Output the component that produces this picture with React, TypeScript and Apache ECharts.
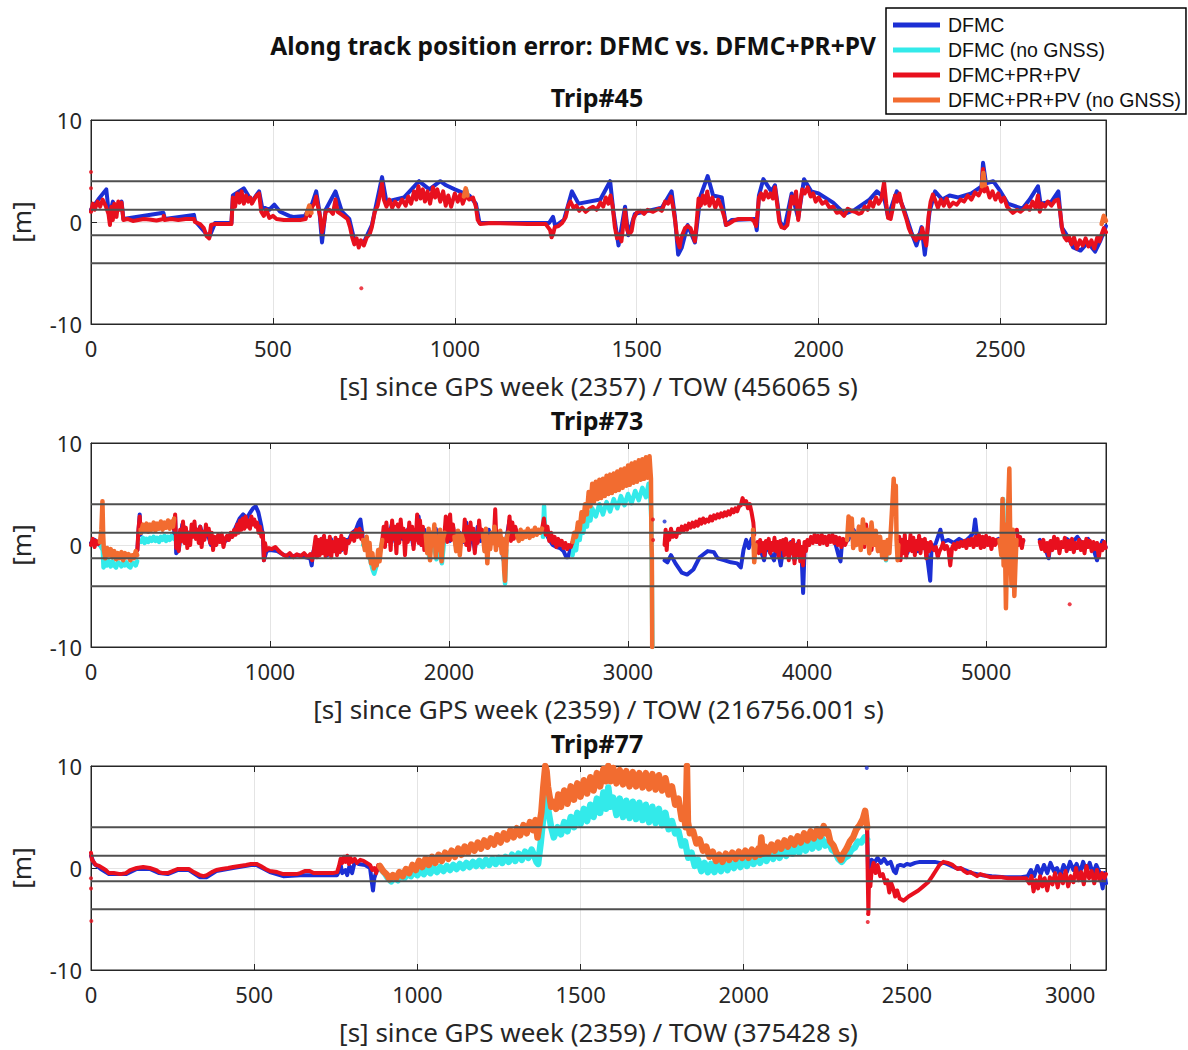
import React, { useEffect, useRef } from "react";
import * as echarts from "echarts";

// ---------- names, colours, axes ----------
const seriesNames = ["DFMC", "DFMC (no GNSS)", "DFMC+PR+PV", "DFMC+PR+PV (no GNSS)"];
const seriesColors = ["#1c2fd4", "#33eaea", "#e8101e", "#f26c30"];
const tripTitles = ["Trip#45", "Trip#73", "Trip#77"];
const xAxisNames = [
  "[s] since GPS week (2357) / TOW (456065 s)",
  "[s] since GPS week (2359) / TOW (216756.001 s)",
  "[s] since GPS week (2359) / TOW (375428 s)",
];
const xMaxes = [2790, 5670, 3110];
const xIntervals = [500, 1000, 500];
const yTicks = [-10, 0, 10];
const refLevels = [4, 1.2, -1.3, -4.05];

type Seg = number[][];

// ---------- Trip#45 ----------
const trip45Dfmc: Seg[] = [
  [[0,1.2],[20,2.2],[42,3.2],[50,0.5],[60,2.0],[70,1.0],[84,2.0],[89,0.3],[199,0.9],[203,0.3],[283,0.7],[286,0.1],[325,-1.5],[341,-0.1],[386,-0.1],[390,2.6],[420,3.3],[442,2.0],[462,3.0],[470,1.5],[490,1.2],[504,1.7],[520,1.0],[545,0.6],[556,0.5],[588,0.6],[608,1.8],[619,3.0],[628,1.0],[635,-2.0],[645,1.2],[672,3.0],[690,1.0],[710,0.3],[724,-1.8],[750,-2.0],[772,-0.3],[800,4.4],[812,2.0],[860,2.4],[902,4.0],[930,3.2],[960,4.0],[976,3.6],[1000,3.2],[1040,2.6],[1058,1.8],[1068,-0.1],[1259,-0.1],[1270,0.5],[1276,-0.4],[1300,0.2],[1322,3.0],[1340,1.8],[1400,2.2],[1427,4.0],[1436,1.0],[1450,-2.3],[1468,1.5],[1477,-1.3],[1495,0.8],[1569,1.4],[1596,3.0],[1605,0.5],[1614,-3.2],[1624,-2.5],[1640,-0.3],[1660,-2.0],[1675,2.5],[1695,4.5],[1710,2.6],[1734,2.4],[1745,-0.3],[1761,0.2],[1825,0.3],[1830,-0.8],[1836,2.6],[1848,4.2],[1870,3.0],[1880,3.6],[1894,0.0],[1906,-0.6],[1926,2.8],[1944,0.4],[1960,4.2],[1980,3.0],[2000,2.8],[2040,1.9],[2072,0.8],[2100,1.2],[2140,2.2],[2160,3.0],[2180,2.4],[2191,0.5],[2205,2.0],[2215,3.0],[2235,1.2],[2255,-1.0],[2269,-2.3],[2283,-0.5],[2292,-3.2],[2305,1.0],[2320,3.0],[2340,2.2],[2360,2.6],[2384,2.4],[2420,2.8],[2448,3.5],[2452,5.8],[2460,3.8],[2480,4.0],[2500,3.0],[2520,1.8],[2560,1.3],[2580,2.2],[2603,3.5],[2610,1.8],[2640,2.0],[2659,3.0],[2668,-0.5],[2686,-1.5],[2700,-2.5],[2720,-2.8],[2740,-2.0],[2760,-2.9],[2775,-1.8],[2790,-0.4]],
];
const trip45DfmcNoGnss: Seg[] = [
  [[1028,2.8],[1031,3.2],[1034,2.7]],
];
const trip45Pr: Seg[] = [
  [[0,1.0],[5,1.8],[10,1.2],[18,2.0],[25,1.5],[32,2.2],[40,1.6],[48,0.8],[52,-0.3],[56,1.5],[60,0.2],[64,1.8],[70,0.5],[75,2.0],[80,1.2],[84,1.9],[89,0.2],[100,0.3],[115,0.1],[130,0.2],[145,0.3],[160,0.25],[180,0.15],[199,0.3],[200,0.6],[202,0.2],[220,0.3],[240,0.2],[260,0.3],[283,0.3],[286,0.0],[300,-0.2],[310,-0.6],[318,-1.4],[325,-1.6],[330,-0.3],[341,-0.2],[370,-0.2],[386,-0.2],[390,2.4],[396,1.5],[402,2.8],[408,1.9],[414,3.0],[420,1.8],[426,2.6],[432,2.0],[438,2.4],[442,1.8],[455,2.6],[462,2.8],[468,1.0],[475,0.6],[482,1.2],[490,0.4],[500,0.6],[510,0.3],[530,0.2],[556,0.2],[575,0.2],[590,0.3],[596,1.2],[602,0.6],[608,1.5],[614,1.8],[619,2.5],[624,1.5],[630,0.5],[635,-1.0],[640,-0.2],[645,1.0],[655,1.2],[665,0.8],[672,2.2],[678,1.0],[690,0.7],[705,0.3],[712,-0.5],[718,-1.5],[724,-2.2],[730,-1.6],[736,-2.5],[742,-1.8],[750,-2.3],[758,-1.5],[766,-1.2],[772,-0.5],[780,1.0],[788,1.6],[795,2.8],[800,3.8],[805,2.2],[812,1.5],[820,2.2],[828,1.4],[836,2.0],[845,1.5],[855,2.2],[865,1.6],[872,2.5],[880,1.8],[888,3.0],[894,2.2],[900,3.5],[906,2.3],[912,3.2],[918,2.0],[925,3.0],[932,1.8],[940,3.4],[946,2.4],[952,3.2],[960,2.0],[968,3.0],[975,1.6],[982,2.6],[990,1.5],[1000,2.8],[1008,2.0],[1015,2.7],[1022,1.8],[1030,2.6],[1040,2.2],[1050,2.4],[1058,1.5],[1063,0.2],[1070,-0.2],[1100,-0.1],[1150,-0.15],[1200,-0.2],[1250,-0.2],[1262,-0.8],[1266,-1.5],[1270,-1.2],[1275,-0.5],[1285,-0.4],[1295,-0.1],[1305,0.5],[1312,1.6],[1318,2.0],[1326,1.4],[1334,1.6],[1342,1.1],[1350,1.4],[1360,1.0],[1370,1.3],[1380,1.5],[1390,1.2],[1400,1.9],[1408,1.5],[1415,2.4],[1422,1.8],[1428,2.6],[1434,1.5],[1440,-0.5],[1446,-1.6],[1452,-1.2],[1458,-1.9],[1464,0.0],[1468,1.2],[1474,-0.8],[1480,-1.2],[1486,-0.9],[1492,0.4],[1500,0.9],[1510,1.1],[1520,0.8],[1530,1.2],[1545,1.0],[1560,1.3],[1569,1.1],[1578,2.0],[1586,1.8],[1594,2.5],[1600,1.5],[1606,0.0],[1612,-1.8],[1618,-2.5],[1622,-1.6],[1626,-1.2],[1633,-0.6],[1640,-0.4],[1648,-0.6],[1654,-1.2],[1660,-1.9],[1666,0.5],[1670,2.3],[1676,1.6],[1682,2.6],[1688,1.8],[1694,3.0],[1700,1.6],[1708,2.4],[1716,1.4],[1724,2.2],[1732,1.5],[1740,0.6],[1746,-0.3],[1752,-0.2],[1765,0.1],[1780,0.3],[1800,0.3],[1815,0.3],[1822,0.1],[1828,-0.4],[1832,0.8],[1836,2.4],[1842,2.8],[1848,2.2],[1855,3.0],[1862,2.4],[1868,2.8],[1874,2.3],[1880,3.4],[1886,1.8],[1892,0.0],[1898,-0.5],[1906,-0.6],[1914,-0.3],[1920,1.0],[1926,2.5],[1932,1.8],[1938,3.0],[1944,0.2],[1950,2.0],[1955,3.2],[1962,2.8],[1970,3.4],[1978,2.5],[1985,2.8],[1992,2.0],[2000,2.4],[2010,1.8],[2020,2.0],[2030,1.4],[2040,1.5],[2050,0.9],[2060,1.0],[2070,0.6],[2080,1.3],[2090,1.1],[2100,1.0],[2110,0.8],[2118,0.9],[2127,1.5],[2135,1.2],[2142,2.0],[2150,1.5],[2158,2.4],[2165,1.8],[2172,2.2],[2180,3.9],[2186,1.8],[2191,0.4],[2198,0.3],[2205,1.5],[2210,2.6],[2216,2.0],[2222,2.8],[2228,1.8],[2235,1.0],[2242,0.2],[2248,-0.6],[2255,-1.2],[2262,-1.5],[2268,-1.8],[2274,-1.3],[2280,-1.6],[2285,-0.6],[2290,-1.5],[2296,-2.3],[2302,0.5],[2308,2.0],[2314,2.7],[2320,2.2],[2328,1.4],[2336,2.2],[2344,1.6],[2352,2.3],[2360,1.5],[2370,1.9],[2380,1.7],[2390,2.2],[2400,2.0],[2410,2.6],[2420,2.2],[2430,2.9],[2440,2.6],[2448,3.2],[2452,5.2],[2456,3.0],[2462,3.4],[2470,2.4],[2478,3.0],[2486,2.2],[2494,2.8],[2502,2.0],[2510,2.4],[2518,1.5],[2526,1.2],[2534,0.9],[2545,1.2],[2555,1.0],[2565,1.3],[2572,1.6],[2580,1.2],[2588,2.0],[2596,1.4],[2603,2.6],[2608,1.0],[2614,1.8],[2622,1.5],[2630,2.0],[2640,1.6],[2650,2.1],[2658,2.2],[2664,1.0],[2670,-0.8],[2676,-1.5],[2682,-1.8],[2688,-1.4],[2695,-2.2],[2702,-1.5],[2710,-2.6],[2718,-1.8],[2726,-2.3],[2734,-1.6],[2742,-2.4],[2750,-1.8],[2758,-2.6],[2766,-1.5],[2772,-1.9],[2778,-1.2],[2784,-0.6],[2790,-1.0]],
];
const trip45PrNoGnss: Seg[] = [
  [[593,0.8],[600,1.6],[606,0.9]],
  [[1025,2.5],[1030,3.3],[1035,2.6]],
  [[2449,3.5],[2453,4.8],[2457,3.6]],
  [[2778,-0.2],[2784,0.6],[2790,0.1]],
];
const trip45PrOutliers = [[0,4.9],[0,3.3],[743,-6.5]];
const trip45DfmcOutliers: number[][] = [];

// ---------- Trip#73 ----------
const trip73Dfmc: Seg[] = [
  [[0,0.2],[20,0.5],[45,0.0],[50,0.2]],
  [[259,-0.5],[266,1.5],[272,3.0],[277,1.0]],
  [[464,1.0],[470,2.8],[476,-0.8],[490,-0.5],[510,2.0],[530,1.5],[550,0.5],[570,1.2],[590,0.8],[610,1.8],[630,0.6],[650,1.2],[670,0.0],[690,0.5],[710,0.8],[730,0.6],[750,0.4],[770,0.6],[790,1.0],[810,1.8],[830,2.6],[850,3.0],[870,2.6],[890,3.2],[905,3.6],[920,3.8],[935,3.2],[950,2.0],[960,1.0],[966,-1.5],[980,-0.6],[1000,-0.5],[1040,-0.6],[1080,-1.0],[1120,-1.1],[1160,-1.0],[1200,-1.2],[1225,-1.3],[1233,-2.0],[1240,-0.8],[1260,0.5],[1280,-0.8],[1300,0.8],[1320,-1.0],[1340,0.6],[1360,-0.6],[1380,0.4],[1400,-0.5],[1420,0.5],[1440,0.5],[1460,1.2],[1480,1.5],[1495,2.2],[1505,2.5],[1515,1.2],[1520,0.4]],
  [[1627,0.3],[1640,1.5],[1660,0.5],[1680,2.0],[1700,0.3],[1720,1.6],[1740,0.6],[1760,1.2],[1780,1.8],[1800,0.0],[1814,0.8],[1830,2.8],[1846,0.0],[1862,1.5],[1878,-0.6],[1894,1.2],[1910,-0.4],[1926,1.6],[1942,0.2],[1958,-1.2],[1975,1.0],[1990,2.6],[2006,0.4],[2022,1.8],[2040,-0.3],[2060,1.2],[2080,0.3],[2096,2.2],[2112,-0.3],[2128,1.4],[2144,-0.5],[2160,1.8],[2176,0.4],[2190,1.2],[2206,-0.2],[2222,1.5],[2238,0.2],[2254,1.6],[2262,0.0],[2278,1.2],[2294,-0.4],[2305,-1.5],[2320,0.6],[2338,2.4],[2354,0.8],[2370,1.6],[2390,0.6],[2420,1.2],[2450,0.8],[2480,1.5],[2500,1.2],[2520,1.4],[2540,1.2],[2560,0.5],[2580,0.0],[2600,-0.2],[2620,-0.3],[2640,-0.6],[2655,-1.2],[2665,-1.2],[2675,-0.6],[2690,0.0]],
  [[3204,-1.5],[3220,-1.7],[3240,-1.0],[3265,-1.8],[3300,-2.7],[3330,-2.9],[3365,-2.4],[3400,-1.2],[3445,-0.6],[3480,-0.7],[3500,-1.3],[3540,-1.5],[3575,-1.7],[3610,-1.8],[3630,-2.2],[3645,-0.5],[3660,0.5],[3675,-0.3],[3690,0.6],[3705,0.0],[3720,0.2],[3740,-0.5],[3760,-1.5],[3775,0.3],[3790,-0.6],[3816,-1.5],[3830,0.2],[3853,-2.0],[3870,0.0],[3890,-0.8],[3910,0.3],[3930,-1.5],[3950,0.2],[3970,-1.2],[3978,-4.7],[3986,-0.5],[4000,0.2],[4030,0.6],[4060,0.3],[4090,0.8],[4120,0.4],[4150,0.7],[4180,-1.3],[4187,-1.6],[4195,0.2],[4230,0.5],[4260,1.5],[4290,0.3],[4320,1.0],[4350,0.0],[4380,0.8],[4410,-0.5],[4425,0.0]],
  [[4505,0.0],[4530,0.5],[4560,-0.8],[4590,0.6],[4620,-0.6],[4650,0.3],[4670,-1.0],[4688,-3.5],[4695,-0.5],[4720,0.2],[4745,1.5],[4760,0.3],[4790,0.5],[4820,0.2],[4850,0.6],[4880,0.3],[4910,0.8],[4930,1.2],[4939,2.5],[4950,0.8],[4980,0.4],[5010,0.5],[5040,0.2],[5070,0.6],[5080,0.2]],
  [[5170,0.5],[5190,0.2],[5208,0.4]],
  [[5300,0.5],[5330,-0.3],[5350,-1.3],[5360,0.3],[5390,0.5],[5420,-0.2],[5450,0.6],[5480,0.2],[5510,0.8],[5540,0.0],[5570,0.6],[5600,-0.4],[5620,-1.5],[5630,-0.5],[5650,0.4],[5668,-0.2]],
];
const trip73DfmcNoGnss: Seg[] = [
  [[50,0.0],[66,-0.5],[70,-2.2],[80,-1.5],[90,-2.0],[100,-1.6],[110,-2.1],[120,-1.6],[130,-2.0],[140,-2.2],[150,-1.7],[160,-1.8],[170,-2.1],[180,-1.7],[190,-2.0],[200,-1.7],[210,-2.1],[220,-2.2],[230,-1.8],[240,-1.8],[250,-2.0],[258,-1.6]],
  [[280,0.3],[290,0.7],[300,0.2],[310,0.6],[320,0.3],[330,0.7],[340,0.4],[350,0.8],[360,0.4],[370,0.7],[380,0.3],[390,0.8],[400,0.5],[410,0.9],[420,0.4],[430,0.8],[440,0.5],[450,0.9],[464,0.6]],
  [[1520,0.0],[1540,0.5],[1560,-1.5],[1575,-2.5],[1582,-2.8],[1595,-2.0],[1610,-1.0],[1627,0.3]],
  [[1870,0.8],[1890,-1.2],[1910,0.5],[1930,-1.4],[1950,1.0],[1960,-1.8],[1975,0.8]],
  [[2305,-1.0],[2313,-3.8],[2320,-0.5]],
  [[2525,0.8],[2531,3.8],[2537,1.0]],
  [[2690,-1.0],[2700,0.0],[2710,-0.5],[2720,1.0],[2730,0.5],[2740,2.0],[2750,1.2],[2760,2.6],[2770,1.8],[2780,3.2],[2790,2.4],[2800,3.6],[2820,2.8],[2840,4.0],[2860,3.0],[2880,4.2],[2900,3.3],[2920,4.5],[2940,3.6],[2960,4.8],[2980,3.9],[3000,5.0],[3020,4.1],[3040,5.3],[3060,4.4],[3080,5.6],[3100,4.7],[3115,6.0],[3125,4.6],[3130,2.5],[3133,-3.0],[3136,-10]],
  [[4436,-0.5],[4441,-1.5],[4446,-0.6]],
  [[5090,1.0],[5095,4.5],[5100,0.5]],
];
const trip73Pr: Seg[] = [
  [[0,0.0],[10,0.6],[20,-0.2],[30,0.4],[40,0.1],[50,0.3]],
  [[259,-0.5],[265,1.5],[272,2.8],[277,1.5]],
  [[464,1.5],[470,3.0],[476,-0.3],[482,0.8],[490,-0.6],[498,1.5],[506,0.4],[514,2.3],[522,0.2],[530,1.7],[538,-0.3],[546,1.2],[554,0.0],[562,2.0],[570,0.8],[578,2.3],[586,0.6],[594,1.5],[602,0.2],[610,1.8],[618,-0.2],[626,1.3],[634,0.5],[642,2.0],[650,1.0],[658,1.6],[666,0.2],[674,1.2],[682,-0.5],[690,0.8],[700,0.0],[710,1.0],[720,0.3],[730,1.1],[740,-0.2],[750,0.6],[760,0.9],[770,0.5],[780,1.2],[790,0.8],[800,1.5],[808,1.0],[816,2.0],[824,1.2],[832,2.4],[840,1.5],[848,2.6],[856,1.6],[864,2.8],[872,1.8],[880,2.4],[888,1.6],[896,2.8],[904,2.0],[912,2.5],[920,1.8],[928,2.2],[936,1.2],[944,1.8],[952,0.8],[960,1.2],[966,-1.5],[972,0.2],[980,-0.5],[994,-0.3],[1010,-0.4],[1030,-0.2],[1050,-0.6],[1070,-0.9],[1090,-1.1],[1110,-0.8],[1130,-1.2],[1150,-0.9],[1170,-1.1],[1190,-0.8],[1210,-1.2],[1225,-0.9],[1235,-1.5],[1245,-0.5],[1255,0.8],[1262,-1.2],[1270,0.5],[1278,-1.0],[1286,0.6],[1294,-0.8],[1302,0.9],[1310,-1.1],[1318,0.4],[1326,-0.9],[1334,0.8],[1342,-1.2],[1350,0.3],[1358,-0.6],[1366,0.7],[1374,-1.0],[1382,0.5],[1390,-0.7],[1398,0.9],[1406,-0.4],[1414,0.6],[1422,-0.8],[1430,0.4],[1440,0.2],[1450,0.6],[1460,1.2],[1470,0.4],[1480,1.5],[1490,0.8],[1500,1.6],[1510,0.6],[1516,1.2]],
  [[1627,0.5],[1635,1.8],[1642,-0.2],[1650,2.2],[1658,0.4],[1666,1.5],[1674,-0.5],[1682,2.4],[1690,0.6],[1698,1.8],[1706,-0.8],[1714,2.0],[1722,0.2],[1730,2.5],[1738,0.8],[1746,1.6],[1754,-1.0],[1762,1.4],[1770,0.3],[1778,2.2],[1786,0.6],[1794,1.8],[1802,-0.4],[1810,1.5],[1814,0.5],[1822,3.0],[1830,0.2],[1838,2.4],[1846,0.0],[1854,1.8],[1862,-0.5],[1870,1.0]],
  [[1975,1.2],[1982,2.8],[1990,0.3],[1998,1.5],[2006,3.0],[2014,0.5],[2022,2.0],[2030,0.8]],
  [[2080,0.4],[2088,2.5],[2096,0.0],[2104,1.8],[2112,-0.5],[2120,2.2],[2128,0.6],[2136,1.6],[2144,-0.8],[2152,1.2],[2160,0.2],[2168,2.4],[2176,0.8],[2184,1.5],[2190,1.0]],
  [[2250,0.5],[2258,3.5],[2265,0.2]],
  [[2330,1.2],[2338,2.8],[2346,0.4],[2354,2.2],[2362,0.6],[2370,1.8],[2380,1.0]],
  [[2520,1.6],[2530,2.6],[2540,1.0],[2550,1.8],[2560,0.4],[2570,1.2],[2580,0.2],[2590,0.8],[2600,-0.2],[2610,0.6],[2620,0.0],[2630,0.4],[2640,-0.3],[2650,0.2],[2660,-0.4],[2670,0.0],[2680,-0.2],[2690,0.3]],
  [[3204,0.0],[3210,1.5],[3216,-0.5],[3222,1.2],[3230,0.5],[3240,1.6],[3250,0.8],[3260,1.2],[3270,0.8],[3280,1.6],[3290,1.2],[3300,1.8],[3310,1.4],[3320,1.9],[3330,1.5],[3340,2.1],[3350,1.7],[3360,2.2],[3370,1.8],[3380,2.3],[3390,1.9],[3400,2.5],[3410,2.1],[3420,2.6],[3430,2.2],[3440,2.5],[3450,2.3],[3460,2.8],[3470,2.4],[3480,2.9],[3490,2.6],[3500,3.0],[3510,2.7],[3520,3.1],[3530,2.8],[3540,3.2],[3550,2.9],[3560,3.3],[3570,3.0],[3580,3.5],[3590,3.2],[3600,3.6],[3610,3.3],[3620,3.8],[3630,3.9],[3640,4.6],[3650,4.0],[3660,4.3],[3670,3.6],[3680,4.0],[3690,3.2],[3700,2.2],[3705,1.0]],
  [[3724,0.3],[3730,-0.8],[3738,0.5],[3746,-0.6],[3754,0.2],[3762,-1.0],[3770,0.4],[3778,-0.3],[3786,0.6],[3794,-0.8],[3802,0.2],[3810,-0.5],[3818,0.7],[3826,-0.6],[3834,0.3],[3842,-1.2],[3850,0.4],[3858,-0.4],[3866,0.5],[3874,-1.0],[3882,0.6],[3890,-0.3],[3898,-1.5],[3906,0.2],[3914,-0.8],[3922,0.5],[3930,-1.8],[3938,0.0],[3946,-1.0],[3954,0.4],[3962,-1.6],[3970,-0.2],[3978,-2.0],[3986,0.3],[3994,-0.6],[4002,0.5],[4012,0.0],[4022,0.8],[4032,0.2],[4042,1.0],[4052,0.3],[4062,0.9],[4072,0.1],[4082,1.0],[4092,0.2],[4102,0.8],[4112,0.0],[4122,0.9],[4132,0.3],[4142,1.0],[4152,0.2],[4162,0.8],[4172,0.0],[4182,0.7],[4192,-0.2],[4202,0.6],[4212,0.0],[4224,0.5]],
  [[4300,0.5],[4310,1.5],[4320,-0.2],[4330,2.0],[4340,0.3],[4350,1.2],[4360,-0.5],[4370,1.0],[4380,0.0],[4390,0.8],[4400,0.2]],
  [[4510,0.0],[4515,0.8],[4522,-1.5],[4530,0.5],[4538,-0.8],[4546,1.0],[4554,-1.2],[4562,0.3],[4570,-0.5],[4578,1.0],[4586,-0.6],[4594,0.7],[4602,-1.0],[4610,0.4],[4618,-0.4],[4626,0.9],[4634,-0.8],[4642,0.5],[4650,-0.3],[4658,0.6],[4666,-1.3],[4674,0.2],[4682,-0.6],[4690,0.3],[4700,-0.3],[4710,-0.5],[4720,-0.2],[4730,-1.2],[4740,-0.6],[4750,-0.3],[4760,0.2],[4770,-0.4],[4780,-0.1],[4790,-0.5],[4800,-2.0],[4810,-0.3],[4820,0.1],[4830,-0.4],[4840,0.2],[4850,-0.2],[4860,0.3],[4870,-0.1],[4880,0.4],[4890,-0.3],[4900,0.5],[4910,0.0],[4920,0.6],[4930,-0.2],[4940,0.8],[4950,0.0],[4960,1.0],[4970,-0.3],[4980,0.8],[4990,-0.2],[5000,0.9],[5010,0.0],[5020,0.7],[5030,-0.4],[5040,0.6],[5050,0.0],[5060,0.5],[5070,0.2]],
  [[5172,1.5],[5180,0.0],[5190,0.8],[5200,-0.3],[5208,0.5]],
  [[5300,0.3],[5310,-0.4],[5320,0.5],[5330,-0.6],[5340,0.2],[5350,-1.0],[5360,0.4],[5370,-0.5],[5380,0.8],[5390,-0.3],[5400,0.6],[5410,-0.8],[5420,0.3],[5430,-0.2],[5440,0.7],[5450,-0.6],[5460,0.4],[5470,-0.4],[5480,0.6],[5490,-0.7],[5500,0.2],[5510,-0.3],[5520,0.5],[5530,-0.5],[5540,0.3],[5550,-0.8],[5560,0.6],[5570,-0.2],[5580,0.4],[5590,-0.6],[5600,0.3],[5610,-0.4],[5620,0.2],[5630,-1.2],[5640,0.0],[5650,-0.5],[5660,0.3],[5668,-0.3]],
];
const trip73PrNoGnss: Seg[] = [
  [[50,0.3],[58,1.5],[64,4.3],[68,1.0],[72,-0.5],[80,-1.3],[90,-0.3],[100,-1.0],[110,-0.4],[120,-1.2],[130,-0.6],[140,-1.4],[150,-0.8],[160,-1.3],[170,-0.7],[180,-1.5],[190,-0.8],[200,-1.2],[210,-0.9],[220,-1.5],[230,-1.0],[240,-1.3],[250,-0.6],[258,-1.0]],
  [[277,1.5],[280,1.2],[290,2.0],[300,1.4],[310,2.1],[320,1.3],[330,2.0],[340,1.5],[350,2.2],[360,1.4],[370,2.1],[380,1.6],[390,2.3],[400,1.5],[410,2.2],[420,1.7],[430,2.4],[440,1.6],[450,2.3],[458,1.8],[464,2.6]],
  [[1520,0.5],[1530,-0.5],[1540,0.8],[1548,-1.2],[1556,0.2],[1564,-1.8],[1572,-0.8],[1580,-2.3],[1588,-1.5],[1596,-2.0],[1604,-0.5],[1612,-1.6],[1620,-0.3],[1627,0.5]],
  [[1870,1.0],[1878,-0.8],[1886,1.6],[1894,-1.5],[1902,1.2],[1910,0.0],[1918,2.0],[1926,-1.2],[1934,0.8],[1942,-0.5],[1950,1.5],[1958,-1.6],[1966,0.6],[1975,1.2]],
  [[2030,0.8],[2040,-0.6],[2050,1.4],[2060,-1.0],[2070,1.0],[2080,0.4]],
  [[2190,1.0],[2198,-0.6],[2206,1.6],[2214,-1.8],[2222,0.8],[2230,-0.4],[2238,1.2],[2246,0.2],[2254,1.8],[2262,-0.5],[2270,1.0],[2278,0.0],[2286,1.4],[2294,-0.8],[2302,0.6],[2308,-2.5],[2313,-3.5],[2318,-1.0],[2324,0.8],[2330,1.2]],
  [[2380,1.0],[2390,0.4],[2400,1.5],[2410,0.6],[2420,1.3],[2430,0.8],[2440,1.6],[2450,0.7],[2460,1.4],[2470,0.9],[2480,1.7],[2490,1.0],[2500,1.5],[2510,1.2],[2520,1.6]],
  [[2690,0.3],[2700,1.2],[2710,0.8],[2720,2.2],[2730,1.5],[2740,3.2],[2750,2.3],[2760,4.0],[2770,3.0],[2780,5.2],[2790,3.8],[2800,6.0],[2810,4.2],[2820,6.2],[2830,4.5],[2840,6.4],[2850,4.6],[2860,6.5],[2870,4.8],[2880,6.8],[2890,5.0],[2900,6.9],[2910,5.1],[2920,7.0],[2930,5.3],[2940,7.2],[2950,5.4],[2960,7.4],[2970,5.6],[2980,7.5],[2990,5.8],[3000,7.8],[3010,5.9],[3020,8.0],[3030,6.1],[3040,8.1],[3050,6.2],[3060,8.3],[3070,6.4],[3080,8.4],[3090,6.5],[3100,8.6],[3110,6.6],[3120,8.7],[3128,6.5],[3131,0.0],[3133,-1.0],[3135,-10]],
  [[3698,1.5],[3705,-1.7],[3712,0.0]],
  [[4224,0.5],[4232,2.8],[4240,1.0],[4250,2.6],[4258,-0.3],[4266,1.2],[4276,0.0],[4290,1.8],[4300,-0.5],[4312,2.5],[4324,0.2],[4336,1.5],[4348,-0.8],[4360,2.2],[4372,0.0],[4384,1.4],[4396,-0.6],[4408,0.8],[4420,-1.2],[4430,0.3],[4440,-1.4],[4450,0.5],[4460,-0.8],[4470,2.0],[4478,4.5],[4484,6.5],[4490,3.0],[4496,5.8],[4500,0.5],[4506,-1.5],[4510,0.0]],
  [[5075,0.5],[5085,-1.0],[5092,4.5],[5098,-2.0],[5104,2.0],[5111,-6.2],[5116,-2.0],[5122,3.0],[5130,7.5],[5136,-0.5],[5142,-4.0],[5150,1.5],[5158,-5.0],[5164,-2.0],[5170,0.5]],
];
const trip73PrOutliers = [[3139,2.5],[3140,0.5],[5467,-5.8]];
const trip73DfmcOutliers = [[3204,2.3]];

// ---------- Trip#77 ----------
const trip77Dfmc: Seg[] = [
  [[0,1.2],[10,0.4],[30,-0.1],[55,-0.6],[107,-0.6],[140,-0.1],[180,-0.1],[209,-0.5],[235,-0.6],[265,-0.2],[300,-0.2],[333,-0.9],[355,-0.9],[384,-0.3],[435,0.0],[490,0.3],[507,0.3],[548,-0.4],[589,-0.8],[641,-0.7],[682,-0.7],[754,-0.7],[760,-0.3],[765,0.3],[770,-0.5],[780,-0.2],[785,-0.7],[792,0.2],[800,-0.5],[808,0.6],[820,0.4],[840,0.3],[855,0.0],[861,-1.5],[864,-2.2],[868,-1.0],[875,-0.3],[885,0.0]],
  [[2378,4.0],[2382,-2.0],[2386,0.3],[2392,0.8],[2400,0.5],[2410,1.0],[2420,0.5],[2430,0.9],[2440,0.4],[2450,0.6],[2460,-0.3],[2466,-0.5],[2472,0.2],[2480,0.3],[2490,0.2],[2500,0.4],[2510,0.3],[2525,0.5],[2540,0.6],[2555,0.6],[2570,0.6],[2585,0.6],[2600,0.5],[2615,0.5],[2630,0.3],[2650,0.0],[2670,-0.1],[2700,-0.5],[2730,-0.7],[2760,-0.8],[2800,-0.9],[2850,-0.9],[2870,-0.8],[2880,-0.2],[2890,-0.8],[2900,0.2],[2910,-0.6],[2920,0.3],[2930,-0.5],[2940,0.5],[2950,-0.3],[2960,0.0],[2970,-0.8],[2980,0.3],[2990,-0.4],[3000,0.6],[3010,-0.2],[3020,0.4],[3030,-0.5],[3040,0.6],[3050,-0.3],[3060,0.5],[3070,-0.6],[3080,0.3],[3090,-0.4],[3100,-2.0],[3105,-0.5],[3110,-1.5]],
];
const trip77DfmcNoGnss: Seg[] = [
  [[885,0.0],[900,-0.5],[910,-1.0],[920,-1.3],[930,-0.9],[940,-1.2],[950,-0.7],[960,-1.0],[970,-0.5],[980,-0.8],[990,-0.3],[1000,-0.7],[1010,-0.2],[1020,-0.6],[1030,-0.1],[1040,-0.5],[1050,0.0],[1060,-0.4],[1070,0.1],[1080,-0.3],[1090,0.2],[1100,-0.2],[1110,0.3],[1120,-0.1],[1130,0.4],[1140,0.0],[1150,0.5],[1160,0.1],[1170,0.6],[1180,0.2],[1190,0.7],[1200,0.2],[1210,0.8],[1220,0.3],[1230,0.9],[1240,0.4],[1250,1.0],[1260,0.5],[1270,1.1],[1280,0.6],[1290,1.3],[1300,0.7],[1310,1.4],[1320,0.8],[1330,1.6],[1340,1.0],[1350,1.8],[1358,1.2],[1365,0.6],[1370,0.4],[1378,2.5],[1386,5.0],[1395,7.0],[1402,5.5],[1410,4.0],[1418,3.0],[1430,4.0],[1440,3.3],[1450,4.5],[1460,3.6],[1470,5.0],[1480,4.0],[1490,5.4],[1500,4.3],[1510,5.8],[1520,4.6],[1530,6.2],[1540,5.0],[1550,6.8],[1560,5.4],[1570,7.4],[1578,5.8],[1585,7.9],[1592,6.0],[1600,6.9],[1610,5.2],[1620,6.8],[1630,5.0],[1640,6.6],[1650,4.9],[1660,6.5],[1670,4.8],[1680,6.4],[1690,4.7],[1700,6.2],[1710,4.5],[1720,6.0],[1730,4.4],[1740,5.8],[1750,4.2],[1760,5.4],[1770,3.8],[1780,4.6],[1790,3.4],[1800,3.6],[1810,2.2],[1820,2.6],[1830,1.0],[1840,1.5],[1850,0.2],[1860,0.8],[1870,-0.3],[1880,0.5],[1890,-0.4],[1900,0.4],[1910,-0.4],[1920,0.3],[1930,-0.3],[1940,0.4],[1950,-0.2],[1960,0.5],[1970,0.0],[1980,0.7],[1990,0.1],[2000,0.8],[2010,0.2],[2020,1.0],[2030,0.4],[2040,1.2],[2050,0.5],[2060,1.3],[2070,0.7],[2080,1.5],[2090,0.9],[2100,1.7],[2110,1.0],[2120,1.8],[2130,1.2],[2140,2.0],[2150,1.4],[2160,2.2],[2170,1.5],[2180,2.4],[2190,1.7],[2200,2.6],[2210,1.9],[2220,2.8],[2230,2.0],[2240,2.9],[2250,2.2],[2260,2.6],[2270,1.8],[2280,1.6],[2290,0.9],[2300,0.6],[2310,1.0],[2320,1.2],[2330,1.8],[2340,2.0],[2350,2.6],[2360,2.5],[2370,3.0],[2378,2.8]],
];
const trip77Pr: Seg[] = [
  [[0,1.5],[3,0.8],[8,0.6],[15,0.3],[25,0.2],[35,0.0],[45,-0.2],[55,-0.5],[70,-0.5],[90,-0.6],[107,-0.5],[120,-0.2],[140,0.0],[160,0.1],[180,0.0],[200,-0.2],[209,-0.4],[220,-0.5],[235,-0.5],[250,-0.3],[265,-0.1],[285,-0.1],[300,-0.1],[315,-0.4],[333,-0.7],[345,-0.8],[355,-0.7],[370,-0.4],[384,-0.2],[400,-0.1],[420,0.0],[435,0.1],[455,0.2],[475,0.3],[490,0.4],[507,0.4],[520,0.2],[535,-0.1],[548,-0.3],[570,-0.4],[589,-0.6],[610,-0.6],[630,-0.6],[641,-0.5],[655,-0.3],[670,-0.3],[682,-0.5],[700,-0.5],[720,-0.5],[740,-0.5],[754,-0.4],[760,0.2],[765,0.9],[770,0.5],[775,1.1],[780,0.6],[785,1.2],[790,0.4],[795,1.0],[800,0.6],[808,0.9],[815,0.5],[825,0.8],[835,0.7],[845,0.5],[855,0.3],[862,-0.2],[868,0.0],[874,-0.5],[880,0.3],[885,0.0]],
  [[2378,4.5],[2380,-1.0],[2382,-4.5],[2384,-0.5],[2388,-1.8],[2392,-0.2],[2398,0.5],[2404,-0.5],[2410,0.3],[2418,-0.8],[2426,-0.6],[2434,-1.5],[2440,-1.2],[2446,-2.4],[2452,-1.5],[2458,-2.0],[2464,-2.8],[2470,-2.2],[2478,-3.0],[2490,-3.2],[2505,-2.8],[2520,-2.5],[2535,-2.2],[2550,-1.8],[2565,-1.4],[2578,-0.8],[2590,-0.2],[2600,0.3],[2612,0.6],[2625,0.5],[2640,0.3],[2655,-0.1],[2665,0.0],[2675,-0.3],[2685,-0.5],[2695,-0.4],[2705,-0.6],[2715,-0.8],[2725,-0.6],[2735,-0.7],[2745,-0.8],[2755,-0.9],[2770,-0.9],[2790,-0.9],[2810,-1.0],[2830,-1.0],[2850,-1.0],[2865,-1.0],[2875,-1.5],[2882,-0.8],[2888,-2.3],[2895,-1.2],[2902,-2.0],[2908,-0.8],[2915,-1.8],[2922,-1.0],[2930,-2.2],[2938,-0.9],[2946,-1.6],[2954,-0.5],[2962,-1.9],[2970,-0.6],[2978,-1.5],[2986,-0.3],[2994,-1.8],[3002,-0.8],[3010,-1.4],[3018,0.0],[3026,-1.2],[3034,-0.4],[3042,-1.6],[3050,0.2],[3058,-1.0],[3066,-0.3],[3074,-1.5],[3082,-0.2],[3090,-1.2],[3098,-0.5],[3105,-1.0],[3110,-0.6]],
];
const trip77PrNoGnss: Seg[] = [
  [[885,0.2],[895,-0.3],[905,-0.6],[915,-1.1],[925,-0.7],[935,-1.0],[945,-0.4],[955,-0.8],[965,-0.1],[975,-0.5],[985,0.3],[995,-0.2],[1005,0.7],[1015,0.1],[1025,0.9],[1035,0.3],[1045,1.1],[1055,0.5],[1065,1.3],[1075,0.7],[1085,1.5],[1095,0.9],[1105,1.7],[1115,1.1],[1125,1.9],[1135,1.3],[1145,2.1],[1155,1.5],[1165,2.3],[1175,1.7],[1185,2.5],[1195,1.9],[1205,2.7],[1215,2.1],[1225,2.9],[1235,2.3],[1245,3.2],[1255,2.5],[1265,3.4],[1275,2.8],[1285,3.7],[1295,3.0],[1305,3.9],[1315,3.2],[1325,4.2],[1335,3.4],[1345,4.5],[1355,3.7],[1362,4.7],[1368,3.0],[1372,3.8],[1380,5.5],[1386,8.0],[1392,10.0],[1396,9.5],[1400,8.0],[1405,7.0],[1410,6.0],[1415,6.5],[1425,5.8],[1432,7.2],[1440,6.0],[1450,7.6],[1460,6.3],[1470,8.0],[1480,6.7],[1490,8.3],[1500,7.0],[1510,8.6],[1520,7.3],[1530,8.9],[1540,7.6],[1550,9.3],[1560,8.0],[1570,9.7],[1578,8.5],[1585,10.0],[1592,8.5],[1600,9.8],[1610,8.3],[1620,9.6],[1630,8.2],[1640,9.5],[1650,8.0],[1660,9.4],[1670,8.0],[1680,9.3],[1690,7.9],[1700,9.3],[1710,7.8],[1720,9.2],[1730,7.7],[1740,9.1],[1750,7.6],[1760,8.8],[1770,7.2],[1780,8.0],[1790,6.2],[1800,6.8],[1810,4.8],[1818,5.0],[1822,4.0],[1826,10.0],[1829,4.5],[1835,3.4],[1845,3.6],[1855,2.4],[1865,2.8],[1875,1.7],[1885,2.1],[1895,1.1],[1905,1.6],[1915,0.7],[1925,1.3],[1935,0.6],[1945,1.4],[1955,0.8],[1965,1.5],[1975,0.9],[1985,1.6],[1995,1.0],[2005,1.7],[2015,1.0],[2025,1.8],[2035,1.1],[2045,1.9],[2050,1.3],[2054,3.0],[2058,1.4],[2065,2.1],[2075,1.5],[2085,2.3],[2095,1.7],[2105,2.5],[2115,1.9],[2125,2.7],[2135,2.1],[2145,2.9],[2155,2.3],[2165,3.1],[2175,2.5],[2185,3.4],[2195,2.7],[2205,3.6],[2215,2.9],[2225,3.8],[2235,3.1],[2245,4.1],[2252,3.4],[2258,3.6],[2265,2.6],[2275,2.2],[2285,1.4],[2292,1.2],[2298,0.8],[2305,1.4],[2315,1.9],[2325,2.6],[2335,3.0],[2345,3.8],[2355,4.2],[2365,4.8],[2372,5.6],[2378,4.0]],
];
const trip77PrOutliers = [[0,-1.0],[0,-2.0],[1,-5.2],[2380,-5.3],[2381,-4.5]];
const trip77DfmcOutliers = [[2377,9.8]];

const trips = [
  { dfmc: trip45Dfmc, dfmcNo: trip45DfmcNoGnss, pr: trip45Pr, prNo: trip45PrNoGnss, prOut: trip45PrOutliers, dfmcOut: trip45DfmcOutliers },
  { dfmc: trip73Dfmc, dfmcNo: trip73DfmcNoGnss, pr: trip73Pr, prNo: trip73PrNoGnss, prOut: trip73PrOutliers, dfmcOut: trip73DfmcOutliers },
  { dfmc: trip77Dfmc, dfmcNo: trip77DfmcNoGnss, pr: trip77Pr, prNo: trip77PrNoGnss, prOut: trip77PrOutliers, dfmcOut: trip77DfmcOutliers },
];

const FONT = "Noto Sans";
const INK = "#262626";
// stroke widths per trip and per series (DFMC, no GNSS, PR+PV, PR+PV no GNSS)
const lineWidths = [
  [4, 4.5, 4, 4.5],
  [4, 4.5, 4, 4.5],
  [4, 6.5, 4, 6.5],
];

function buildOption() {
  const gridTops = [120, 443, 766];
  const grid = gridTops.map((top) => ({ left: 88, top, width: 1018, height: 204, show: true, borderColor: INK, borderWidth: 1, backgroundColor: "#fff" }));
  const xAxis: any[] = [];
  const yAxis: any[] = [];
  const series: any[] = [];
  gridTops.forEach((_, i) => {
    xAxis.push({
      gridIndex: i, type: "value", min: 0, max: xMaxes[i], interval: xIntervals[i], position: "bottom",
      axisLine: { show: true, onZero: false, lineStyle: { color: INK, width: 1 } },
      axisTick: { show: true, inside: true, length: 6, lineStyle: { color: INK } },
      axisLabel: { fontSize: 22, color: INK, fontFamily: FONT, margin: 13, showMaxLabel: false, formatter: (v: number) => String(v) },
      splitLine: { show: true, lineStyle: { color: "#e4e4e4", width: 1 } },
      name: xAxisNames[i], nameLocation: "middle", nameGap: 49,
      nameTextStyle: { fontSize: 26, color: INK, fontFamily: FONT },
    });
    xAxis.push({
      gridIndex: i, type: "value", min: 0, max: xMaxes[i], interval: xIntervals[i], position: "top",
      axisLine: { show: true, onZero: false, lineStyle: { color: INK } },
      axisTick: { show: true, inside: true, length: 6, lineStyle: { color: INK } },
      axisLabel: { show: false }, splitLine: { show: false },
    });
    yAxis.push({
      gridIndex: i, type: "value", min: yTicks[0], max: yTicks[2], interval: 10, position: "left",
      axisLine: { show: true, onZero: false, lineStyle: { color: INK } },
      axisTick: { show: true, inside: true, length: 6, lineStyle: { color: INK } },
      axisLabel: { fontSize: 22, color: INK, fontFamily: FONT, margin: 9 },
      splitLine: { show: true, lineStyle: { color: "#e4e4e4", width: 1 } },
      name: "[m]", nameLocation: "middle", nameGap: 57, nameRotate: 90,
      nameTextStyle: { fontSize: 26, color: INK, fontFamily: FONT },
    });
    yAxis.push({
      gridIndex: i, type: "value", min: -10, max: 10, interval: 10, position: "right",
      axisLine: { show: true, onZero: false, lineStyle: { color: INK } },
      axisTick: { show: true, inside: true, length: 6, lineStyle: { color: INK } },
      axisLabel: { show: false }, splitLine: { show: false },
    });
    const xi = 2 * i;
    const yi = 2 * i;
    const t = trips[i];
    const groups: [Seg[], number][] = [[t.dfmc, 0], [t.dfmcNo, 1], [t.pr, 2], [t.prNo, 3]];
    groups.forEach(([segs, k]) => {
      segs.forEach((seg) => {
        series.push({
          type: "line", name: seriesNames[k], xAxisIndex: xi, yAxisIndex: yi, data: seg,
          showSymbol: false, symbol: "none", silent: true, z: 2 + k,
          lineStyle: { color: seriesColors[k], width: lineWidths[i][k], join: "round", cap: "round" },
          itemStyle: { color: seriesColors[k] },
        });
      });
    });
    series.push({
      type: "scatter", name: seriesNames[0], xAxisIndex: xi, yAxisIndex: yi, data: t.dfmcOut,
      symbolSize: 4, itemStyle: { color: seriesColors[0] }, silent: true, z: 6,
    });
    series.push({
      type: "scatter", name: seriesNames[2], xAxisIndex: xi, yAxisIndex: yi, data: t.prOut,
      symbolSize: 4, itemStyle: { color: seriesColors[2] }, silent: true, z: 6,
    });
    refLevels.forEach((lv) => {
      series.push({
        type: "line", name: "ref", xAxisIndex: xi, yAxisIndex: yi,
        data: [[0, lv], [xMaxes[i], lv]], showSymbol: false, symbol: "none", silent: true, z: 8,
        lineStyle: { color: "#4f4f4f", width: 2 },
      });
    });
  });

  const title: any[] = [
    { text: "Along track position error: DFMC vs. DFMC+PR+PV", left: 573, top: 33, textAlign: "center", padding: 0,
      textStyle: { fontSize: 24.5, fontWeight: "bold", color: "#111", fontFamily: FONT } },
  ];
  tripTitles.forEach((txt, i) => {
    title.push({ text: txt, left: 597, top: [84, 407, 730][i], textAlign: "center", padding: 0,
      textStyle: { fontSize: 25, fontWeight: "bold", color: "#111", fontFamily: FONT } });
  });

  return {
    animation: false,
    backgroundColor: "#fff",
    title,
    legend: {
      data: seriesNames, orient: "vertical", left: 886, top: 8,
      padding: [7, 5, 4, 7], itemGap: 5, itemWidth: 47, itemHeight: 5, icon: "rect",
      borderColor: "#000", borderWidth: 1.5, backgroundColor: "#fff",
      textStyle: { fontSize: 19.5, fontFamily: "Liberation Sans", color: "#111", padding: [0, 0, 0, 3] },
      selectedMode: false, z: 20,
    },
    grid, xAxis, yAxis, series,
  };
}

export default function App() {
  const ref = useRef<HTMLDivElement>(null);
  useEffect(() => {
    document.body.style.margin = "0";
    if (!ref.current) return;
    const chart = echarts.init(ref.current, undefined, { renderer: "svg" });
    chart.setOption(buildOption() as any);
    return () => chart.dispose();
  }, []);
  return <div ref={ref} style={{ width: 1188, height: 1050 }} />;
}
